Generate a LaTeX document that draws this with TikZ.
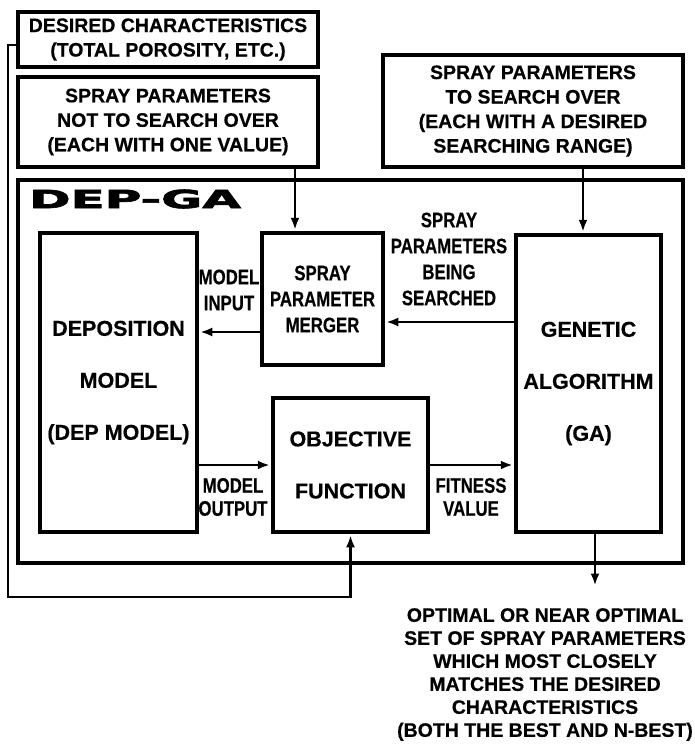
\documentclass[tikz,border=0pt]{standalone}
\usepackage{fontspec}
\setmainfont{Liberation Sans}[BoldFeatures={FakeBold=0.5}]
\newfontfamily\titlefont[FakeBold=2.5]{DejaVu Sans Bold}
\usetikzlibrary{arrows.meta}
\newcommand\cnd[1]{\scalebox{0.8}[1]{#1}}
\begin{document}
\begin{tikzpicture}[x=1pt,y=-1pt,
 box/.style={draw, line width=3.5pt, rectangle, inner sep=0pt, align=center, font=\bfseries\fontsize{19.5}{24.5}\selectfont},
 bigbox/.style={draw, line width=3.5pt, rectangle, inner sep=0pt, align=center, font=\bfseries\fontsize{21.5}{52}\selectfont},
 lbl/.style={align=center, inner sep=0pt, font=\bfseries\fontsize{21}{25}\selectfont},
 arr/.style={line width=2.8pt, -{Latex[length=12pt,width=9pt]}, shorten >=1.5pt},
 retline/.style={line width=2.4pt, -{Latex[length=12pt,width=9pt]}, shorten >=1.5pt},
]
\useasboundingbox (0,0) rectangle (695,747);

% top input boxes
\node[box, minimum width=300pt, minimum height=55pt] (desired) at (168,39.5) {DESIRED CHARACTERISTICS\\(TOTAL POROSITY, ETC.)};
\node[box, minimum width=300pt, minimum height=90pt] (sprayno) at (168,122) {SPRAY PARAMETERS\\NOT TO SEARCH OVER\\(EACH WITH ONE VALUE)};
\node[box, minimum width=300pt, minimum height=112pt] (spraysearch) at (533,111) {SPRAY PARAMETERS\\TO SEARCH OVER\\(EACH WITH A DESIRED\\SEARCHING RANGE)};

% outer DEP-GA frame
\node[draw, line width=4pt, rectangle, inner sep=0pt, minimum width=665pt, minimum height=383pt] (depga) at (350.5,371.5) {};
\node[inner sep=0pt, font=\titlefont\fontsize{25}{25}\selectfont] (title) at (135,199) {\scalebox{2.0}[1]{DEP-GA}};

% inner blocks
\node[bigbox, minimum width=157pt, minimum height=299pt] (dep) at (118.5,382.5) {DEPOSITION\\MODEL\\(DEP MODEL)};
\node[box, font=\bfseries\fontsize{21}{26}\selectfont, minimum width=121pt, minimum height=132pt] (merger) at (322.5,299) {\cnd{SPRAY}\\\cnd{PARAMETER}\\\cnd{MERGER}};
\node[bigbox, minimum width=155pt, minimum height=134pt] (objective) at (350.5,465) {OBJECTIVE\\FUNCTION};
\node[bigbox, minimum width=145pt, minimum height=297pt] (ga) at (588.5,383.5) {GENETIC\\ALGORITHM\\(GA)};

% connector labels
\node[lbl, font=\bfseries\fontsize{21}{26}\selectfont] (lin) at (229,290) {\cnd{MODEL}\\\cnd{INPUT}};
\node[lbl, font=\bfseries\fontsize{21}{26}\selectfont] (lsearch) at (449,259) {\cnd{SPRAY}\\\cnd{PARAMETERS}\\\cnd{BEING}\\\cnd{SEARCHED}};
\node[lbl, font=\bfseries\fontsize{21}{23}\selectfont] (lout) at (233,497) {\cnd{MODEL}\\\cnd{OUTPUT}};
\node[lbl, font=\bfseries\fontsize{21}{23}\selectfont] (lfit) at (471,497) {\cnd{FITNESS}\\\cnd{VALUE}};

% result text
\node[align=center, inner sep=0pt, anchor=north, font=\bfseries\fontsize{19.5}{23}\selectfont] (result) at (545,608) {OPTIMAL OR NEAR OPTIMAL\\SET OF SPRAY PARAMETERS\\WHICH MOST CLOSELY\\MATCHES THE DESIRED\\CHARACTERISTICS\\(BOTH THE BEST AND N-BEST)};

% helper coordinates
\coordinate (mx) at (295,0);
\coordinate (gx) at (583,0);
\coordinate (ox) at (595,0);
\coordinate (ret) at (8,597);
\coordinate (rtip) at (595,587);
\coordinate (yin) at (0,332);
\coordinate (ysr) at (0,322);
\coordinate (dy) at (0,45);

% connectors
\draw[arr] (sprayno.south -| mx) -- (merger.north -| mx);
\draw[arr] (spraysearch.south -| gx) -- (ga.north -| gx);
\draw[arr] (ga.west |- ysr) -- (merger.east |- ysr);
\draw[arr] (merger.west |- yin) -- (dep.east |- yin);
\draw[arr] (dep.east |- objective.west) -- (objective.west);
\draw[arr] (objective.east) -- (ga.west |- objective.east);
\draw[arr] (ga.south -| ox) -- (rtip);
\draw[retline] (desired.west |- dy) -| (ret) -| (objective.south);
\end{tikzpicture}
\end{document}
